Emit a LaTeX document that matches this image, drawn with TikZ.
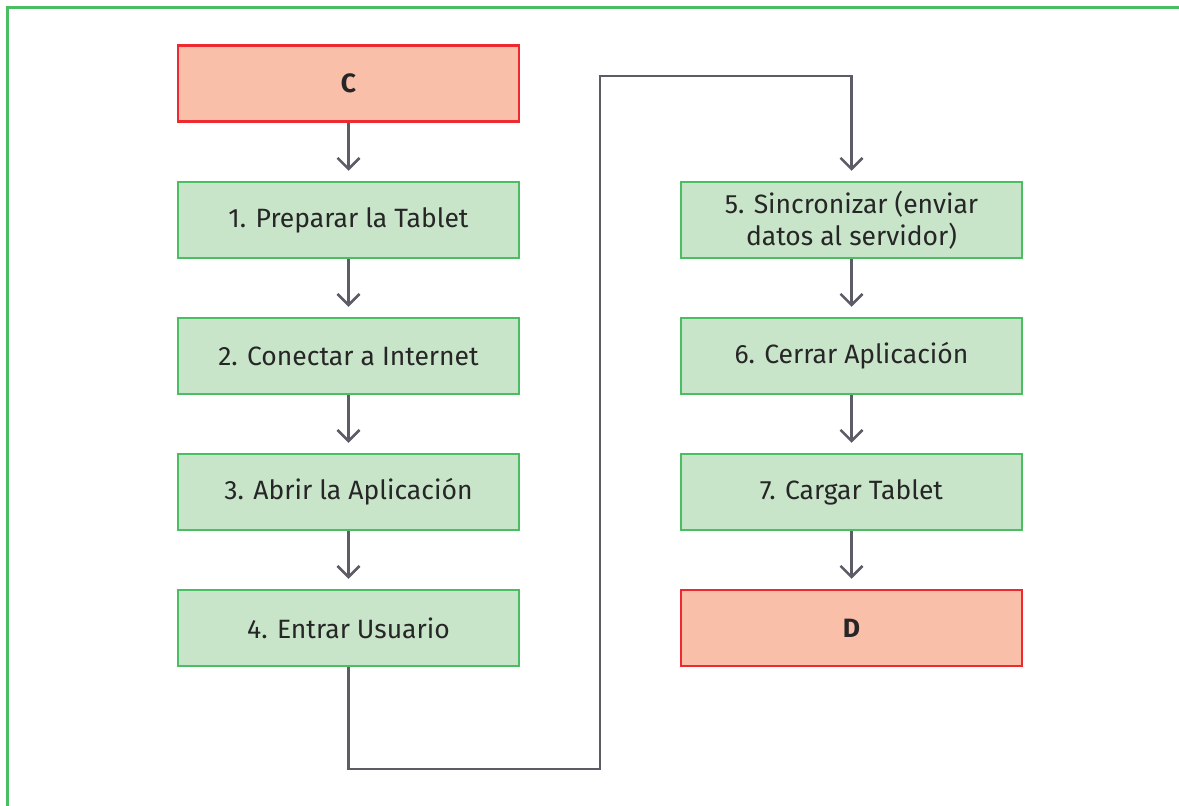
\documentclass[tikz,border=0pt]{standalone}
\usepackage{fontspec}
\setmainfont{Fira Sans}
\usetikzlibrary{arrows.meta}
\definecolor{startfill}{HTML}{F9BFA8}
\definecolor{startline}{HTML}{EE2A30}
\definecolor{stepfill}{HTML}{C8E4C9}
\definecolor{stepline}{HTML}{4BBD62}
\definecolor{flowline}{HTML}{5B5C66}
\definecolor{textcol}{HTML}{262626}
\tikzset{
  box/.style={rectangle, minimum width=341pt, minimum height=76pt, inner sep=0pt,
    line width=2.5pt, font=\fontsize{26.5}{32}\selectfont, text=textcol, align=center},
  stepbox/.style={box, draw=stepline, fill=stepfill},
  endbox/.style={box, draw=startline, fill=startfill, font=\fontsize{26.5}{32}\selectfont\bfseries},
  flow/.style={draw=flowline, line width=2.5pt,
    -{Straight Barb[length=11pt,width=22pt,line width=2.5pt]}, shorten >=10pt},
}
\begin{document}
\begin{tikzpicture}[x=1pt,y=-1pt]
\useasboundingbox (0,0) rectangle (1179,806);
% outer frame: top and left edges
\draw[stepline, line width=3.5pt] (7.5,806) -- (7.5,7.5) -- (1179,7.5);
% left column
\node[endbox]  (c)  at (348.5,83.5)  {C};
\node[stepbox] (s1) at (348.5,220)   {1. Preparar la Tablet};
\node[stepbox] (s2) at (348.5,356)   {2. Conectar a Internet};
\node[stepbox] (s3) at (348.5,492)   {3. Abrir la Aplicación};
\node[stepbox] (s4) at (348.5,628)   {4. Entrar Usuario};
% right column
\node[stepbox] (s5) at (851.5,220)   {5. Sincronizar (enviar\\datos al servidor)};
\node[stepbox] (s6) at (851.5,356)   {6. Cerrar Aplicación};
\node[stepbox] (s7) at (851.5,492)   {7. Cargar Tablet};
\node[endbox]  (d)  at (851.5,628)   {D};
% connectors
\draw[flow] (c) -- (s1);
\draw[flow] (s1) -- (s2);
\draw[flow] (s2) -- (s3);
\draw[flow] (s3) -- (s4);
\coordinate (k1) at (348.5,769);
\coordinate (k2) at (600,769);
\coordinate (k3) at (600,76);
\coordinate (k4) at (851.5,76);
\draw[flow] (s4.south) -- (k1) -- (k2) -- (k3) -- (k4) -- (s5.north);
\draw[flow] (s5) -- (s6);
\draw[flow] (s6) -- (s7);
\draw[flow] (s7) -- (d);
\end{tikzpicture}
\end{document}
